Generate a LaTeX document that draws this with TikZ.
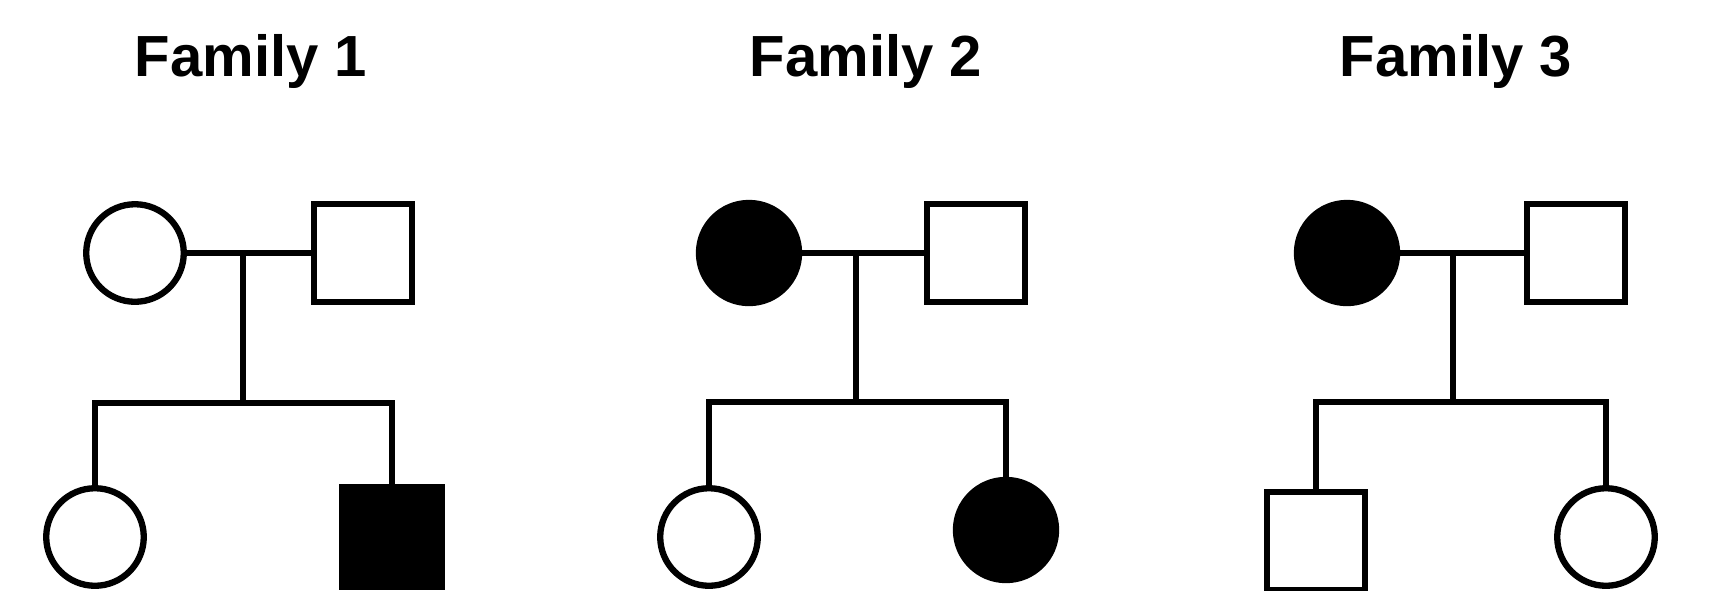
\documentclass[tikz,border=0pt]{standalone}
\usepackage{fontspec}
\setmainfont{Liberation Sans}
\begin{document}
\begin{tikzpicture}[x=0.01cm,y=-0.01cm,
  lw/.style={line width=0.063cm},
  female/.style={circle,draw,lw,minimum size=0.975cm,inner sep=0pt,outer sep=0pt},
  male/.style={rectangle,draw,lw,minimum size=0.975cm,inner sep=0pt,outer sep=0pt},
  aff/.style={fill=black,minimum size=1.0cm},
  title/.style={anchor=base,font=\fontsize{16.5pt}{18pt}\selectfont\bfseries,inner sep=0pt},
  link/.style={lw,line cap=rect}]
\useasboundingbox (0,0) rectangle (1717,590);
% titles
\node[title] (t1) at (251,76) {Family 1};
\node[title] (t2) at (866,76) {Family 2};
\node[title] (t3) at (1456,76) {Family 3};
% family 1
\node[female] (m1) at (135,253) {};
\node[male] (f1) at (363,253) {};
\node[female] (a1) at (95,537) {};
\node[male,aff] (b1) at (392,537) {};
\coordinate (s1) at (243,403);
% family 2
\node[female,aff] (m2) at (749,253) {};
\node[male] (f2) at (976,253) {};
\node[female] (a2) at (709,537) {};
\node[female,aff] (b2) at (1006,530) {};
\coordinate (s2) at (856,402);
% family 3
\node[female,aff] (m3) at (1347,253) {};
\node[male] (f3) at (1576,253) {};
\node[male] (a3) at (1316,541) {};
\node[female] (b3) at (1606,537) {};
\coordinate (s3) at (1453,402);
% connectors
\foreach \i in {1,2,3}{
  \draw[lw] (m\i.east) -- (f\i.west);
  \draw[lw] (s\i |- m\i.east) -- (s\i);
  \draw[link] (a\i.north) -- (a\i.north |- s\i) -- (b\i.north |- s\i) -- (b\i.north);
}
\end{tikzpicture}
\end{document}
